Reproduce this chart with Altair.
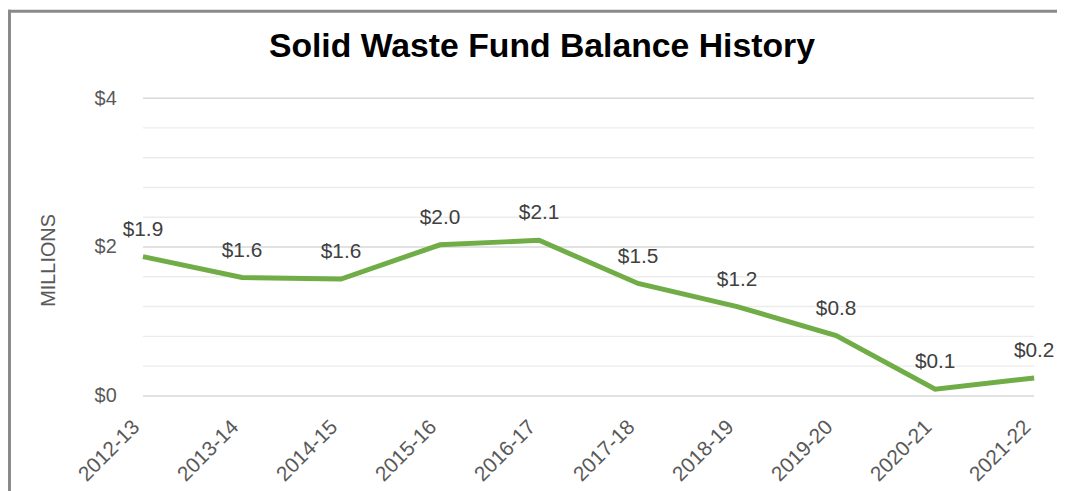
import altair as alt
import pandas as pd

years = ["2012-13", "2013-14", "2014-15", "2015-16", "2016-17",
         "2017-18", "2018-19", "2019-20", "2020-21", "2021-22"]
balance = [1.87, 1.59, 1.57, 2.03, 2.09, 1.51, 1.20, 0.81, 0.09, 0.24]
major_ticks = [0, 2, 4]
minor_ticks = [0.4, 0.8, 1.2, 1.6, 2.4, 2.8, 3.2, 3.6]

df = pd.DataFrame({"year": years, "value": balance})

FONT = "Liberation Sans"
GREEN = "#70AD47"

x_enc = alt.X("year:N", sort=years,
              scale=alt.Scale(type="point", padding=0),
              axis=alt.Axis(title=None, labelAngle=-45, labelAlign="right",
                            labelBaseline="middle", labelPadding=28,
                            labelOffset=-7, labelFontSize=21, labelFont=FONT,
                            labelColor="#595959", ticks=False, domain=False,
                            grid=False, labelOverlap=False))

yscale = alt.Scale(domain=[0, 4], nice=False)
yaxis = alt.Axis(values=major_ticks, format="$.0f", labelOverlap=False,
                 labelFontSize=20, labelFont=FONT, labelColor="#595959",
                 labelPadding=27, ticks=False, domain=False, grid=False,
                 title="MILLIONS", titleFont=FONT, titleFontSize=20,
                 titleFontWeight="normal", titleColor="#595959",
                 titleX=-89, titleY=163, titleBaseline="alphabetic",
                 titleAngle=-90, titleAlign="center")

minor_grid = alt.Chart(pd.DataFrame({"value": minor_ticks})).mark_rule(
    color="#ececec", strokeWidth=1.4).encode(
    y=alt.Y("value:Q", scale=yscale, axis=yaxis))

major_grid = alt.Chart(pd.DataFrame({"value": major_ticks})).mark_rule(
    color="#d9d9d9", strokeWidth=1.5).encode(
    y=alt.Y("value:Q", scale=yscale, axis=yaxis))

line = alt.Chart(df).mark_line(color=GREEN, strokeWidth=5).encode(
    x=x_enc,
    y=alt.Y("value:Q", scale=yscale, axis=yaxis),
)

labels = alt.Chart(df).mark_text(font=FONT, fontSize=21, color="#404040",
                                 baseline="alphabetic", dy=-21).encode(
    x=x_enc,
    y=alt.Y("value:Q", scale=yscale, axis=yaxis),
    text=alt.Text("value:Q", format="$.1f"),
)

border_df = pd.DataFrame({"k": [0]})
top_border = alt.Chart(border_df).mark_rule(color="#8a8a8a", strokeWidth=3,
                                            clip=False).encode(
    x=alt.value(-136), x2=alt.value(925), y=alt.value(-87.5))
left_border = alt.Chart(border_df).mark_rule(color="#8a8a8a", strokeWidth=3,
                                             clip=False).encode(
    x=alt.value(-134.5), y=alt.value(-89), y2=alt.value(400))

chart = alt.layer(minor_grid, major_grid, line, labels,
                  top_border, left_border).properties(
    width=898, height=300,
    padding={"left": 136, "top": 89, "right": 23, "bottom": 94},
    autosize=alt.AutoSizeParams(type="none"),
    title=alt.TitleParams("Solid Waste Fund Balance History", font=FONT,
                          fontSize=34, fontWeight="bold", color="#000000",
                          anchor="middle", frame="group",
                          baseline="alphabetic", offset=0, dy=83, dx=-47),
).configure_view(stroke=None)

chart.save("out.html", embed_options={"renderer": "svg", "actions": False})
